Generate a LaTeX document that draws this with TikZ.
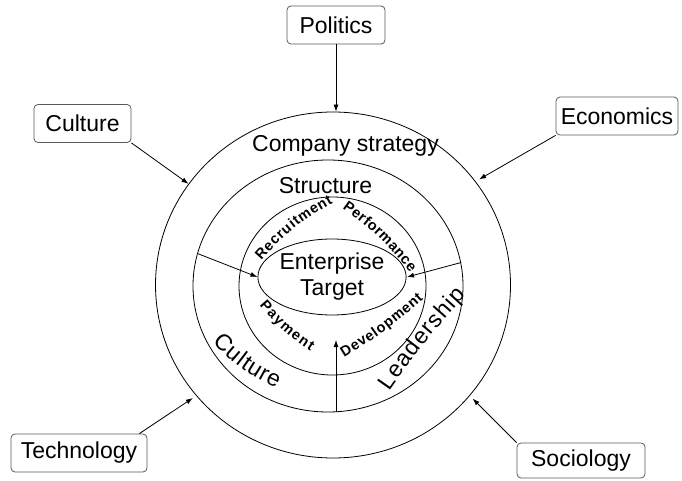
\documentclass[tikz,border=0pt]{standalone}
\usepackage{fontspec}
\setmainfont{Liberation Sans}
\usetikzlibrary{shapes.geometric,decorations.text,arrows.meta}

\newcommand{\wordfont}{\fontsize{23}{26}\selectfont}
\newcommand{\ringfont}{\fontsize{14.5}{15}\selectfont\bfseries}

\begin{document}
\begin{tikzpicture}[x=1pt, y=1pt, line width=0.8pt, >={Latex[length=7pt,width=5pt]},
    factor/.style={draw=black!65, rounded corners=4pt, minimum height=38pt, inner sep=0pt, font=\wordfont},
    ring/.style={draw, ellipse, inner sep=0pt},
    label/.style={font=\wordfont, anchor=base},
    arcword/.style={decorate, decoration={text along path, text align=fit to path, text={#1}}}]
            \useasboundingbox (0,0) rectangle (682,480);
            % rings
            \node[ring, minimum width=355pt, minimum height=346pt] (outer) at (333,195) {};
            \node[ring, minimum width=270pt, minimum height=252pt] (middle) at (328,194) {};
            \node[ring, minimum width=187pt, minimum height=178pt] (inner) at (332.5,194) {};
            \node[ring, minimum width=130pt, minimum height=76pt, font=\wordfont, align=center] (target) at (332,203) {Enterprise\\Target};
            % outside factors
            \node[factor, minimum width=98pt] (politics) at (336,455) {Politics};
            \node[factor, minimum width=97pt] (culture) at (82.5,356.5) {Culture};
            \node[factor, minimum width=122pt] (economics) at (617,364) {Economics};
            \node[factor, minimum width=136pt] (technology) at (79,27) {Technology};
            \node[factor, minimum width=128pt, minimum height=35pt] (sociology) at (581,19.5) {Sociology};
            \draw[->] (politics.south) -- (politics.south |- outer.north);
            \draw[->] (culture.south east) -- (outer.145);
            \draw[->, shorten >=4pt] (economics.south west) -- (outer.36);
            \draw[->, shorten >=4pt] ([xshift=-8pt]technology.north east) -- (outer.219);
            \draw[->, shorten >=4pt] (sociology.north west) -- (outer.321);
            % labels of the rings
            \node[label] (strategy) at (345.5,328) {Company strategy};
            \node[label] (structure) at (325.5,287) {Structure};
            \path[arcword={|\wordfont|Culture}] (212.5,137.3) to[bend right=10] (276.5,91.9);
            \path[arcword={|\wordfont|Leadership}] (389.6,88.8) to[bend left=4] (466.3,184.6);
            \path[arcword={|\ringfont|Recruitment}] (261.4,219.4) to[bend left=10] (333,277);
            \path[arcword={|\ringfont|Performance}] (342.3,271.9) to[bend left=8] (410.1,207.3);
            \path[arcword={|\ringfont|Payment}] (259.3,174.7) to[bend right=8] (310.3,129.3);
            \path[arcword={|\ringfont|Development}] (344.2,122.4) to[bend right=5] (423.6,181.2);
            % inner arrows
            \coordinate (perftip) at (407,203);
            \coordinate (devtip) at (336,140);
            \draw[->] (middle.166) -- (target.west);
            \draw[->] (middle.10) -- (perftip);
            \draw[->] (middle.south -| devtip) -- (devtip);
        \end{tikzpicture}
\end{document}
